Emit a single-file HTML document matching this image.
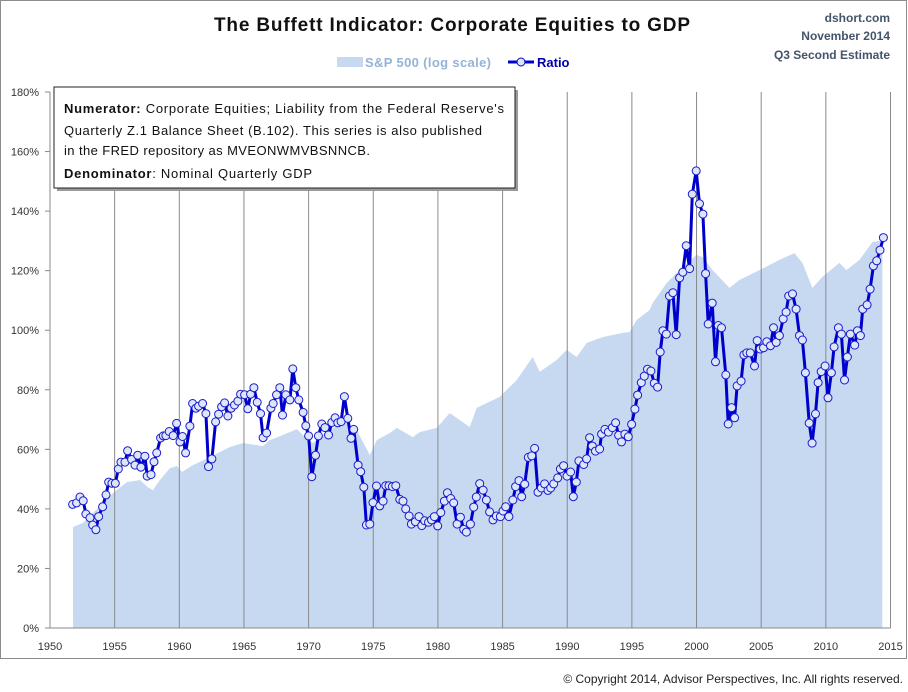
<!DOCTYPE html>
<html><head><meta charset="utf-8"><style>
html,body{margin:0;padding:0;background:#fff;}
svg{display:block;font-family:"Liberation Sans",sans-serif;}
</style></head><body>
<svg id="chart" width="908" height="692" viewBox="0 0 908 692">
<rect x="0.5" y="0.5" width="906" height="658" fill="#fff" stroke="#8c8c8c"/>
<text x="452" y="31" text-anchor="middle" font-size="19" font-weight="bold" fill="#111" textLength="476">The Buffett Indicator: Corporate Equities to GDP</text>
<g font-size="12" font-weight="bold" fill="#44546a" text-anchor="end">
<text x="890" y="22">dshort.com</text>
<text x="890" y="40">November 2014</text>
<text x="890" y="59">Q3 Second Estimate</text>
</g>
<g>
<g>
<rect x="337" y="57" width="26" height="10" fill="#c6d9f1"/>
<text x="365" y="67" font-size="13" font-weight="bold" fill="#95b3d7" textLength="126">S&amp;P 500 (log scale)</text>
</g>
<g>
<line x1="508" y1="62" x2="534" y2="62" stroke="#0000cc" stroke-width="3"/>
<circle cx="521" cy="62" r="4" fill="#dce6f8" stroke="#0000cc" stroke-width="1"/>
<text x="537" y="67" font-size="13" font-weight="bold" fill="#0000aa">Ratio</text>
</g>
</g>
<g id="plot"></g>
<g>
<rect x="57" y="90" width="461" height="101" fill="#9a9a9a"/>
<rect x="54" y="87" width="461" height="101" fill="#fff" stroke="#222" stroke-width="1"/>
<text x="64" y="113" font-size="13" fill="#111" textLength="440"><tspan font-weight="bold">Numerator:</tspan> Corporate Equities; Liability from the Federal Reserve's</text>
<text x="64" y="135" font-size="13" fill="#111" textLength="418">Quarterly Z.1 Balance Sheet (B.102). This series is also published</text>
<text x="64" y="155" font-size="13" fill="#111" textLength="306">in the FRED repository  as MVEONWMVBSNNCB.</text>
<text x="64" y="178" font-size="13" fill="#111" textLength="248"><tspan font-weight="bold">Denominator</tspan>: Nominal Quarterly GDP</text>
</g>
<text x="903" y="683" text-anchor="end" font-size="12" fill="#222">© Copyright 2014, Advisor Perspectives, Inc. All rights reserved.</text>
</svg>
<script>
const yTicks = [0,20,40,60,80,100,120,140,160,180];
const xTicks = [1950,1955,1960,1965,1970,1975,1980,1985,1990,1995,2000,2005,2010,2015];
const spYears = [1951.78,1952.55,1954.87,1955.95,1956.96,1957.57,1957.96,1958.5,1959.27,1959.81,1960.2,1961.05,1962.36,1963.91,1964.91,1966.46,1967.0,1968.01,1969.09,1969.55,1970.32,1971.1,1972.41,1972.95,1973.72,1974.73,1975.27,1976.28,1976.82,1978.05,1978.59,1979.91,1980.91,1982.46,1983.0,1984.78,1986.09,1987.33,1987.87,1989.18,1989.95,1990.73,1991.5,1992.74,1994.28,1994.82,1995.36,1996.37,1996.6,1997.68,1998.69,2000.0,2000.46,2001.24,2002.55,2003.32,2004.87,2006.41,2007.57,2008.19,2008.96,2009.73,2011.05,2011.59,2012.6,2013.6,2014.37];
const spValues = [33.9,35.3,45.3,49,49.7,47.3,46.3,49.7,53.7,54.4,52.4,54.7,57.4,60.8,62.1,61.1,63.1,64.8,66.8,64.8,62.1,64.8,68.5,68.8,66.5,58.1,63.1,65.5,67.2,64.1,65.8,67.2,72.2,67.5,73.9,77.6,83.3,91,86,90,93.4,91,95.7,97.7,99.1,99.4,103.4,106.8,109.1,115.8,120.2,125.3,124.6,120.2,114.2,116.9,120.2,123.6,125.9,122.6,114.2,117.9,122.6,120.2,123.6,129.6,130.2];
const ratioYears = [1951.75,1952.06,1952.32,1952.57,1952.78,1953.09,1953.3,1953.55,1953.76,1954.07,1954.33,1954.54,1954.79,1955.05,1955.28,1955.49,1955.8,1956.0,1956.31,1956.57,1956.78,1957.03,1957.34,1957.52,1957.81,1958.04,1958.25,1958.55,1958.76,1958.96,1959.22,1959.53,1959.79,1960.05,1960.25,1960.49,1960.82,1961.03,1961.28,1961.49,1961.8,1962.06,1962.26,1962.52,1962.81,1963.04,1963.27,1963.5,1963.76,1964.01,1964.27,1964.53,1964.74,1965.05,1965.3,1965.51,1965.77,1966.02,1966.28,1966.48,1966.75,1967.08,1967.26,1967.52,1967.77,1967.98,1968.24,1968.55,1968.78,1969.01,1969.24,1969.57,1969.78,1970.0,1970.25,1970.53,1970.76,1971.02,1971.27,1971.54,1971.79,1972.05,1972.26,1972.51,1972.77,1973.03,1973.28,1973.49,1973.83,1974.03,1974.27,1974.47,1974.73,1974.98,1975.25,1975.5,1975.76,1975.97,1976.22,1976.48,1976.74,1977.05,1977.3,1977.51,1977.77,1977.95,1978.26,1978.54,1978.75,1978.98,1979.27,1979.5,1979.73,1979.98,1980.22,1980.5,1980.73,1980.99,1981.22,1981.48,1981.74,1981.99,1982.2,1982.51,1982.77,1982.97,1983.23,1983.49,1983.75,1984.0,1984.26,1984.52,1984.83,1985.03,1985.24,1985.49,1985.8,1986.01,1986.27,1986.48,1986.71,1986.99,1987.25,1987.48,1987.74,1988.0,1988.25,1988.51,1988.72,1988.95,1989.26,1989.47,1989.72,1989.98,1990.26,1990.47,1990.7,1990.9,1991.27,1991.5,1991.73,1991.94,1992.19,1992.5,1992.66,1992.91,1993.18,1993.49,1993.74,1993.97,1994.2,1994.46,1994.72,1994.98,1995.23,1995.44,1995.73,1995.96,1996.21,1996.47,1996.73,1996.99,1997.19,1997.4,1997.66,1997.91,1998.17,1998.43,1998.69,1998.94,1999.2,1999.46,1999.67,1999.97,2000.23,2000.49,2000.7,2000.9,2001.21,2001.47,2001.68,2001.93,2002.26,2002.45,2002.71,2002.94,2003.14,2003.45,2003.66,2003.89,2004.15,2004.48,2004.69,2004.92,2005.18,2005.43,2005.72,2005.95,2006.16,2006.41,2006.7,2006.93,2007.13,2007.42,2007.7,2007.96,2008.19,2008.42,2008.71,2008.94,2009.2,2009.4,2009.64,2009.94,2010.17,2010.43,2010.64,2010.97,2011.2,2011.44,2011.67,2011.9,2012.23,2012.44,2012.67,2012.85,2013.19,2013.42,2013.68,2013.93,2014.19,2014.45];
const ratioValues = [41.5,42,44,42.7,38.3,37,34.6,33,37.4,40.7,44.7,49,48.6,48.6,53.4,55.7,55.7,59.5,56.6,54.7,58,54,57.7,51,51.5,55.8,58.8,63.8,64.5,64.6,66,64.6,68.7,62.5,64.3,58.8,67.8,75.4,73.8,74.5,75.4,72,54.2,56.8,69.2,71.8,74.3,75.6,71.2,73.8,74.9,76.2,78.5,78.3,73.6,78.5,80.7,75.8,72,63.9,65.5,73.8,75.4,78.3,80.7,71.5,78.3,76.6,87,80.7,76.6,72.4,67.9,64.5,50.8,58,64.5,68.5,67.3,64.8,69,70.6,68.9,69.3,77.7,70.4,63.7,66.7,54.7,52.5,47.3,34.6,34.9,42.1,47.7,41,42.6,47.8,47.8,47.5,47.8,43.2,42.6,40,37.6,34.9,35.7,37.4,34.4,36,35.5,36.3,37.4,34.3,38.8,42.6,45.4,43.5,42,34.9,37.2,33.1,32.2,34.9,40.6,44,48.5,46.3,43,39,36.3,37.6,37.4,39.3,40.7,37.4,43,47.5,49.5,44.1,48.3,57.3,57.8,60.3,45.6,47,48.4,46.2,47,48.4,50.4,53.4,54.5,51,52.4,44.1,49,56.1,54.9,56.8,63.9,61.1,59.4,60.1,65.1,66.7,65.8,67.3,68.9,64.7,62.5,65.1,64.2,68.4,73.5,78.2,82.4,84.6,86.9,86.3,82.2,80.9,92.7,99.8,98.7,111.5,112.6,98.5,117.6,119.5,128.4,120.7,145.7,153.5,142.5,139,119,102.1,109.1,89.4,101.6,100.8,85,68.5,74,70.6,81.3,82.9,91.7,92.4,92.4,88,96.5,93.7,94.1,96.1,94.8,100.8,95.9,98.2,103.8,106.1,111.5,112.2,107.1,98.2,96.7,85.7,68.8,62.1,71.9,82.4,86.1,88,77.3,85.7,94.4,100.8,98.7,83.3,91,98.7,95,99.8,98.2,107.1,108.5,113.8,121.6,123.3,126.9,131.1];

const X0=50, X1=890.5, Y0=628, Y1=92;
function xs(yr){ return X0 + (yr-1950)/(2015-1950)*(X1-X0); }
function ys(v){ return Y0 - v/180*(Y0-Y1); }
const NS='http://www.w3.org/2000/svg';
const plot=document.getElementById('plot');
function mk(tag,attrs,parent){const e=document.createElementNS(NS,tag);for(const k in attrs)e.setAttribute(k,attrs[k]);(parent||plot).appendChild(e);return e;}

// S&P area
let d='M'+xs(spYears[0])+','+Y0;
for(let i=0;i<spYears.length;i++) d+=' L'+xs(spYears[i]).toFixed(1)+','+ys(spValues[i]).toFixed(1);
d+=' L'+xs(spYears[spYears.length-1])+','+Y0+' Z';
const area=mk('path',{d:d,fill:'#c6d9f1'});



// vertical gridlines
xTicks.forEach(function(t){
  if(t===1950) return;
  const g=mk('line',{x1:xs(t),x2:xs(t),y1:Y1,y2:Y0,stroke:'#8a8a8a','stroke-width':1});
  
  
});
// axes
const ya=mk('line',{x1:X0,x2:X0,y1:Y1,y2:Y0,stroke:'#8a8a8a','stroke-width':1});


const xa=mk('line',{x1:X0-5,x2:X1,y1:Y0,y2:Y0,stroke:'#8a8a8a','stroke-width':1});


yTicks.forEach(function(t){
  const tk=mk('line',{x1:X0-5,x2:X0,y1:ys(t),y2:ys(t),stroke:'#8a8a8a'});
  
  
  const lb=mk('text',{x:X0-11,y:ys(t)+4,'text-anchor':'end','font-size':11,fill:'#333'});
  lb.textContent=t+'%';
  
  
});
xTicks.forEach(function(t){
  const lb=mk('text',{x:xs(t),y:Y0+22,'text-anchor':'middle','font-size':11,fill:'#333'});
  lb.textContent=t;
  
  
});

// ratio line
let pts=[];
for(let i=0;i<ratioYears.length;i++) pts.push(xs(ratioYears[i]).toFixed(1)+','+ys(ratioValues[i]).toFixed(1));
const line=mk('polyline',{points:pts.join(' '),fill:'none',stroke:'#0000cc','stroke-width':3,'stroke-linejoin':'round'});


for(let i=0;i<ratioYears.length;i++){
  const c=mk('circle',{cx:xs(ratioYears[i]).toFixed(1),cy:ys(ratioValues[i]).toFixed(1),r:4,fill:'#dce6f8',stroke:'#1a1acc','stroke-width':1});
  
  
}
</script>
</body></html>
